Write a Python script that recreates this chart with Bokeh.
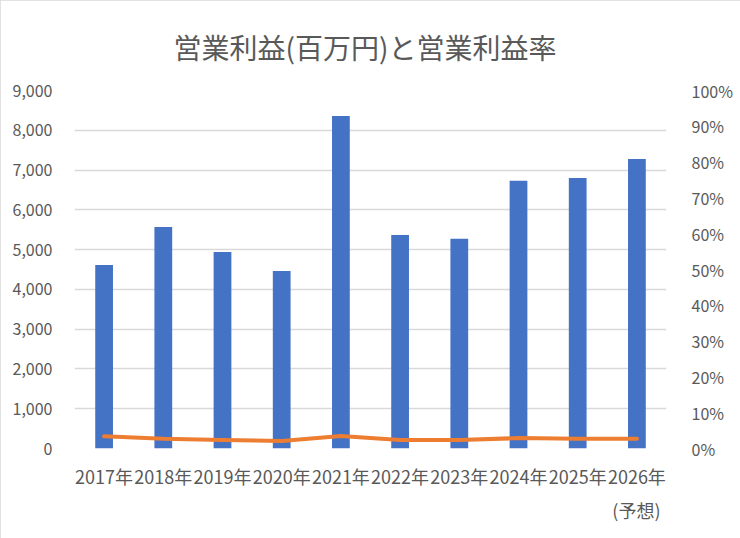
from bokeh.plotting import figure
from bokeh.models import (Range1d, LinearAxis, FactorRange, Title,
                          FixedTicker, PrintfTickFormatter, NumeralTickFormatter,
                          ColumnDataSource)
from bokeh.embed import file_html
from bokeh.resources import INLINE

# ---- data ----
years = ["2017年", "2018年", "2019年", "2020年", "2021年",
         "2022年", "2023年", "2024年", "2025年", "2026年"]
profit = [4610, 5570, 4940, 4460, 8360, 5370, 5270, 6730, 6800, 7280]   # 百万円
margin = [3.4, 2.7, 2.4, 2.1, 3.5, 2.4, 2.4, 2.9, 2.7, 2.7]             # %
left_ticks = [0, 1000, 2000, 3000, 4000, 5000, 6000, 7000, 8000, 9000]
right_ticks = [0, 10, 20, 30, 40, 50, 60, 70, 80, 90, 100]
title_text = "営業利益(百万円)と営業利益率"
forecast_note = "(予想)"

FONT = "Noto Sans CJK JP"
GRAY = "#595959"
BLUE = "#4472C4"
ORANGE = "#ED7D31"

src = ColumnDataSource(dict(year=years, profit=profit, margin=margin))

p = figure(width=740, height=538,
           x_range=FactorRange(*years, range_padding=0),
           y_range=Range1d(0, 9000),
           output_backend="svg", toolbar_location=None,
           title=title_text,
           min_border_left=74, min_border_right=74,
           min_border_top=90, min_border_bottom=90)
p.styles = {"outline": "1px solid #D9D9D9", "outline-offset": "-1px"}
p.outline_line_color = None
p.background_fill_color = "white"
p.border_fill_color = "white"

# title
p.title.text_font = FONT
p.title.text_font_size = "28px"
p.title.text_font_style = "normal"
p.title.text_color = GRAY
p.title.align = "left"
p.title.offset = 99
p.title.standoff = 47

# bars
p.vbar(x="year", top="profit", width=0.3, source=src,
       fill_color=BLUE, line_color=None)

# percent line on secondary range
p.extra_y_ranges = {"pct": Range1d(0, 100)}
p.line(x="year", y="margin", source=src, y_range_name="pct",
       line_color=ORANGE, line_width=4, line_join="round", line_cap="round")

# grid
p.xgrid.grid_line_color = None
p.ygrid.grid_line_color = "#D9D9D9"
p.ygrid.grid_line_width = 1.3
p.ygrid.ticker = FixedTicker(ticks=left_ticks)

# left axis
ya = p.yaxis[0]
ya.ticker = FixedTicker(ticks=left_ticks)
ya.formatter = NumeralTickFormatter(format="0,0")
ya.axis_line_color = None
ya.major_tick_line_color = None
ya.minor_tick_line_color = None
ya.major_label_text_font = FONT
ya.major_label_text_font_size = "16px"
ya.major_label_text_color = GRAY
ya.major_label_standoff = 16

# right axis
ra = LinearAxis(y_range_name="pct", ticker=FixedTicker(ticks=right_ticks),
                formatter=PrintfTickFormatter(format="%d%%"))
ra.axis_line_color = None
ra.major_tick_line_color = None
ra.minor_tick_line_color = None
ra.major_label_text_font = FONT
ra.major_label_text_font_size = "16px"
ra.major_label_text_color = GRAY
ra.major_label_standoff = 19
p.add_layout(ra, "right")

# bottom category axis
xa = p.xaxis[0]
xa.axis_line_color = None
xa.major_tick_line_color = None
xa.minor_tick_line_color = None
xa.major_label_text_font = FONT
xa.major_label_text_font_size = "18px"
xa.major_label_text_color = GRAY
xa.major_label_standoff = 8

# forecast note under the last category
note = Title(text=forecast_note, align="right", offset=6, standoff=6,
             text_font=FONT, text_font_size="18px", text_font_style="normal",
             text_color=GRAY)
p.add_layout(note, "below")

open("out.html", "w").write(file_html(p, INLINE))
